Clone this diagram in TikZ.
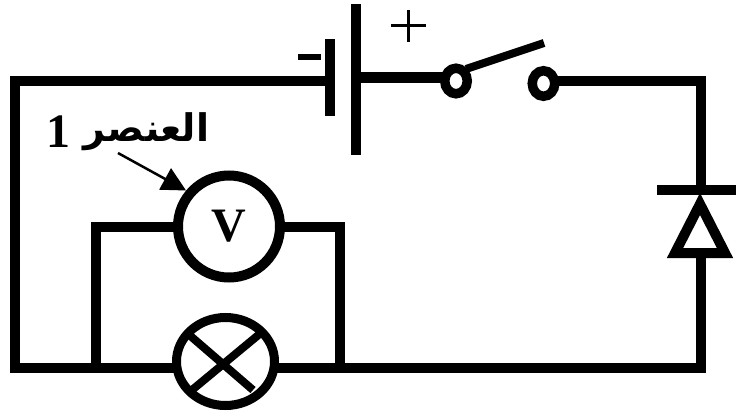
\documentclass[tikz,border=0pt]{standalone}
\usepackage{fontspec}
\usetikzlibrary{arrows.meta,shapes.geometric,calc}
\setmainfont{Liberation Serif}
\TeXXeTstate=1
\newfontfamily\arabicfont[Script=Arabic]{DejaVu Sans}
\tikzset{
  wire/.style={line width=10pt,line cap=butt,line join=miter},
  blade/.style={line width=8pt},
  plate/.style={line width=10pt},
  meter/.style={circle,draw,line width=10pt,minimum size=102pt,inner sep=0pt,fill=white},
  lampbody/.style={ellipse,draw,line width=9pt,minimum width=98pt,minimum height=88pt,inner sep=0pt,fill=white},
  contact/.style={ellipse,draw,line width=9.5pt,minimum width=22.5pt,minimum height=25.5pt,inner sep=0pt,fill=white},
  pointer/.style={line width=2.5pt,-{Triangle[length=24pt,width=24pt]}},
}
\begin{document}
\begin{tikzpicture}[x=1pt,y=-1pt]
\useasboundingbox (0,0) rectangle (736,412);
% named points
\coordinate (negtop) at (330,39);
\coordinate (negbot) at (330,116);
\coordinate (negwire) at (330,80.5);
\coordinate (postop) at (355.5,4);
\coordinate (posbot) at (355.5,155);
\coordinate (poswire) at (355.5,77.5);
\coordinate (swawire) at (445,77.5);
\coordinate (swbwire) at (556,81);
\coordinate (tl) at (14.5,80.5);
\coordinate (bl) at (14.5,368);
\coordinate (tr) at (701,81);
\coordinate (br) at (701,368);
\coordinate (jl) at (96,368);
\coordinate (jr) at (340,368);
\coordinate (ml) at (96,227);
\coordinate (mr) at (340,227);
\coordinate (bladestart) at (466,69);
\coordinate (bladeend) at (544,43);
\coordinate (barl) at (657,189.5);
\coordinate (barr) at (736,189.5);
\coordinate (barm) at (701,189.5);
\coordinate (apex) at (700,204);
\coordinate (basel) at (675,253);
\coordinate (baser) at (725,253);
\coordinate (basem) at (701,253);
\coordinate (ptrstart) at (118,153);
\coordinate (crossa) at (187,333);
\coordinate (crossb) at (253,390);
\coordinate (crossc) at (262,332);
\coordinate (crossd) at (192,390);
% wires
\draw[wire] (negwire) -- (tl) -- (bl) -- (br) -- (basem);
\draw[wire] (swbwire) -- (tr) -- (barm);
\draw[wire] (jl) -- (ml) -- (mr) -- (jr);
\draw[wire] (poswire) -- (swawire);
\node[contact] (swa) at (456,81) {};
\node[contact] (swb) at (543.5,83.5) {};
\draw[blade] (bladestart) -- (bladeend);
% battery
\draw[plate] (negtop) -- (negbot);
\draw[plate] (postop) -- (posbot);
\draw[line width=6pt] (298,57) -- (321,57);
\draw[line width=3pt] (391,26) -- (426,26);
\draw[line width=3pt] (408,10) -- (408,42);
% diode
\draw[wire] (barl) -- (barr);
\draw[line width=10pt,line join=miter,fill=white] (basel) -- (apex) -- (baser) -- cycle;
% meter and lamp
\node[meter] (volt) at (229,226.5) {\bfseries\fontsize{48}{48}\selectfont V};
\node[lampbody] (lamp) at (225.5,361.5) {};
\draw[blade] (crossa) -- (crossb);
\draw[blade] (crossc) -- (crossd);
% label
\node[inner sep=0pt,anchor=base] (lab) at (128,141) {\bfseries\fontsize{38}{38}\selectfont\arabicfont\beginR العنصر {\rmfamily\bfseries\fontsize{48}{48}\selectfont\raisebox{-6pt}{1}}\endR};
\draw[pointer] (ptrstart) -- (volt.140);
\end{tikzpicture}
\end{document}
